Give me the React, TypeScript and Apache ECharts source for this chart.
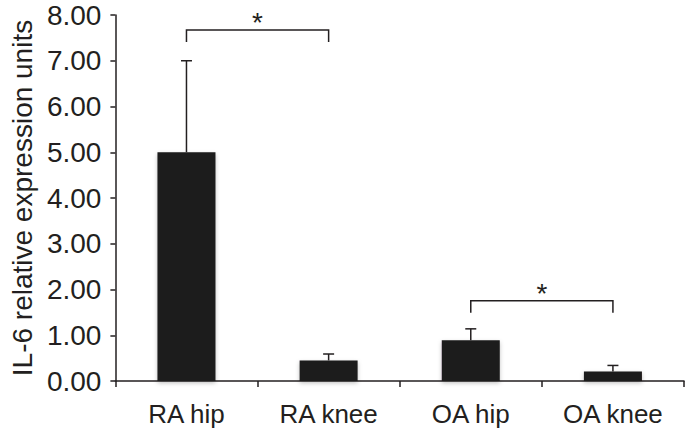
import React, { useEffect, useRef } from "react";
import * as echarts from "echarts";

const categories = ["RA hip", "RA knee", "OA hip", "OA knee"];
const means = [5.0, 0.45, 0.89, 0.21];
const errorTops = [7.0, 0.59, 1.14, 0.34];
// [startCategoryIndex, endCategoryIndex, bracketLevel]
const brackets = [
  [0, 1, 7.67],
  [2, 3, 1.755],
];
const yMin = 0;
const yMax = 8;
const yInterval = 1;

const INK = "#231f20";
const FONT = "'Liberation Sans', Arial, Helvetica, sans-serif";

export default function App() {
  const ref = useRef<HTMLDivElement>(null);

  useEffect(() => {
    if (!ref.current) return;
    const chart = echarts.init(ref.current, undefined, { renderer: "svg" });
    chart.setOption({
      animation: false,
      backgroundColor: "#ffffff",
      grid: { left: 114, right: 1, top: 15, bottom: 49, containLabel: false },
      xAxis: {
        type: "category",
        data: categories,
        boundaryGap: true,
        axisLine: { lineStyle: { color: INK, width: 1.5 } },
        axisTick: { show: true, length: 6, lineStyle: { color: INK, width: 1.5 } },
        axisLabel: { color: INK, fontSize: 26, fontFamily: FONT, margin: 20 },
        splitLine: { show: false },
      },
      yAxis: {
        type: "value",
        min: yMin,
        max: yMax,
        interval: yInterval,
        name: "IL-6 relative expression units",
        nameLocation: "middle",
        nameGap: 78,
        nameRotate: 90,
        nameTextStyle: { color: INK, fontSize: 28, fontFamily: FONT },
        axisLine: { show: true, lineStyle: { color: INK, width: 1.5 } },
        axisTick: { show: true, length: 5, lineStyle: { color: INK, width: 1.5 } },
        axisLabel: {
          color: INK,
          fontSize: 28,
          fontFamily: FONT,
          margin: 14,
          formatter: (v: number) => v.toFixed(2),
        },
        splitLine: { show: false },
      },
      series: [
        {
          type: "bar",
          data: means,
          barWidth: 58,
          itemStyle: {
            color: "#1c1a1b",
            shadowColor: "rgba(0,0,0,0.25)",
            shadowBlur: 4,
            shadowOffsetY: 2,
          },
          z: 2,
        },
        {
          type: "custom",
          data: errorTops.map((e, i) => [i, means[i], e]),
          encode: { x: 0, y: [1, 2] },
          z: 3,
          renderItem: (params: any, api: any) => {
            const base = api.coord([api.value(0), api.value(1)]);
            const top = api.coord([api.value(0), api.value(2)]);
            const half = 5.5;
            return {
              type: "group",
              children: [
                {
                  type: "line",
                  shape: { x1: base[0], y1: base[1], x2: top[0], y2: top[1] },
                  style: { stroke: INK, lineWidth: 1.5 },
                },
                {
                  type: "line",
                  shape: { x1: top[0] - half, y1: top[1], x2: top[0] + half, y2: top[1] },
                  style: { stroke: INK, lineWidth: 1.5 },
                },
              ],
            };
          },
        },
        {
          type: "custom",
          data: brackets,
          encode: { x: [0, 1], y: 2 },
          z: 3,
          clip: false,
          renderItem: (params: any, api: any) => {
            const p1 = api.coord([api.value(0), api.value(2)]);
            const p2 = api.coord([api.value(1), api.value(2)]);
            const drop = 12;
            return {
              type: "group",
              children: [
                {
                  type: "polyline",
                  shape: {
                    points: [
                      [p1[0], p1[1] + drop],
                      [p1[0], p1[1]],
                      [p2[0], p2[1]],
                      [p2[0], p2[1] + drop],
                    ],
                  },
                  style: { stroke: INK, lineWidth: 1.5, fill: "none" },
                },
                {
                  type: "text",
                  x: (p1[0] + p2[0]) / 2,
                  y: p1[1] - 7.5,
                  style: {
                    text: "*",
                    fill: INK,
                    fontSize: 28,
                    fontFamily: FONT,
                    align: "center",
                    verticalAlign: "middle",
                  },
                },
              ],
            };
          },
        },
      ],
    });
    return () => chart.dispose();
  }, []);

  return (
    <div
      ref={ref}
      style={{ position: "fixed", left: 0, top: 0, width: 685, height: 430, background: "#fff" }}
    />
  );
}
